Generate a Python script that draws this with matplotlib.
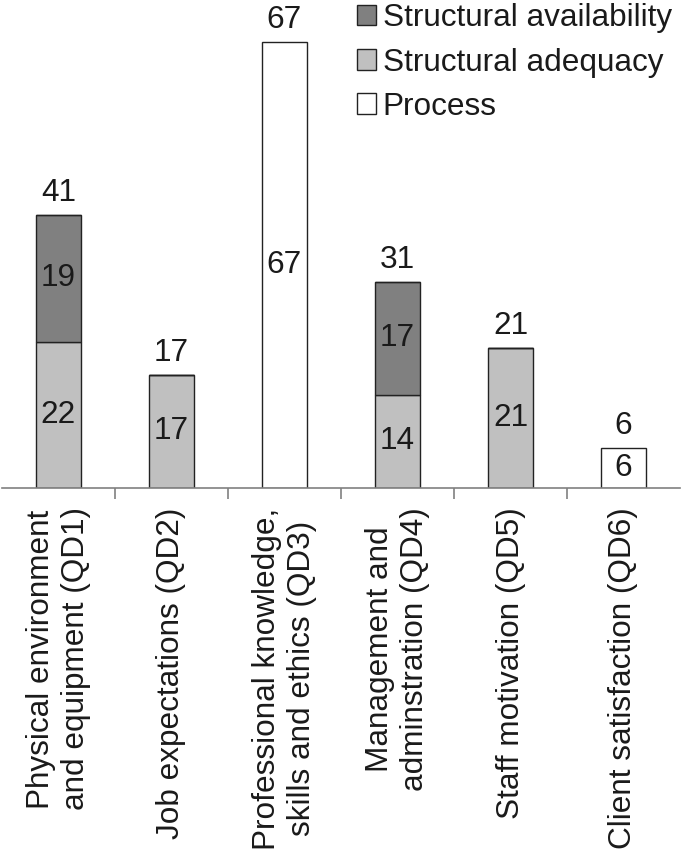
import numpy as np
import matplotlib.pyplot as plt

plt.rcParams['font.family'] = ['Liberation Sans', 'DejaVu Sans']

# Données
categories = [
    "Physical environment\nand equipment (QD1)",
    "Job expectations (QD2)",
    "Professional knowledge,\nskills and ethics (QD3)",
    "Management and\nadminstration (QD4)",
    "Staff motivation (QD5)",
    "Client satisfaction (QD6)",
]
adequacy = [22, 17, 0, 14, 21, 0]
availability = [19, 0, 0, 17, 0, 0]
process = [0, 0, 67, 0, 0, 6]

col_avail = '#808080'
col_adeq = '#c0c0c0'
col_proc = '#ffffff'
txt_col = '#1a1a1a'
fs = 22.7

fig = plt.figure(figsize=(6.85, 8.55), dpi=100)
ax = fig.add_axes([2 / 685, 367 / 855, 678 / 685, 488 / 855])

x = np.arange(len(categories))
adequacy = np.array(adequacy)
availability = np.array(availability)
process = np.array(process)
w = 0.4

b_adeq = ax.bar(x, adequacy, w, color=col_adeq, edgecolor='#222222', linewidth=1,
                label='Structural adequacy')
b_avail = ax.bar(x, availability, w, bottom=adequacy, color=col_avail, edgecolor='#222222',
                 linewidth=1, label='Structural availability')
b_proc = ax.bar(x, process, w, bottom=adequacy + availability, color=col_proc,
                edgecolor='#222222', linewidth=1, label='Process')

# valeurs dans les segments
for vals, bottoms in [(adequacy, np.zeros(6)),
                      (availability, adequacy),
                      (process, adequacy + availability)]:
    for xi, v, b in zip(x, vals, bottoms):
        if v > 0:
            ax.text(xi, b + v / 2, str(v), ha='center', va='center', fontsize=fs, color=txt_col)

# totaux au-dessus
totals = adequacy + availability + process
for xi, t in zip(x, totals):
    ax.annotate(str(t), (xi, t), xytext=(0, 5), textcoords='offset points',
                ha='center', va='bottom', fontsize=fs, color=txt_col)

ax.set_xlim(-0.5, len(categories) - 0.5)
ax.set_ylim(0, 73.3)
ax.set_yticks([])
for s in ['top', 'right', 'left']:
    ax.spines[s].set_visible(False)
ax.spines['bottom'].set_color('#808080')
ax.spines['bottom'].set_linewidth(1.2)

ax.set_xticks(x)
ax.set_xticklabels(categories, rotation=90, fontsize=fs, color=txt_col,
                   multialignment='center', linespacing=1.25)
ax.tick_params(axis='x', which='major', length=0, pad=14)
ax.set_xticks(np.arange(0.5, len(categories) - 0.5), minor=True)
ax.tick_params(axis='x', which='minor', length=8, width=1.2, color='#808080', direction='out')

handles = [b_avail, b_adeq, b_proc]
leg = ax.legend(handles, [h.get_label() for h in handles], loc='upper right',
                bbox_to_anchor=(0.99, 1.0035), bbox_transform=fig.transFigure,
                frameon=False, fontsize=fs, handlelength=0.62, handleheight=0.62,
                handletextpad=0.2, labelspacing=0.45, borderaxespad=0.1, borderpad=0.1)
for t in leg.get_texts():
    t.set_color(txt_col)

plt.savefig('out.png', dpi=100)
